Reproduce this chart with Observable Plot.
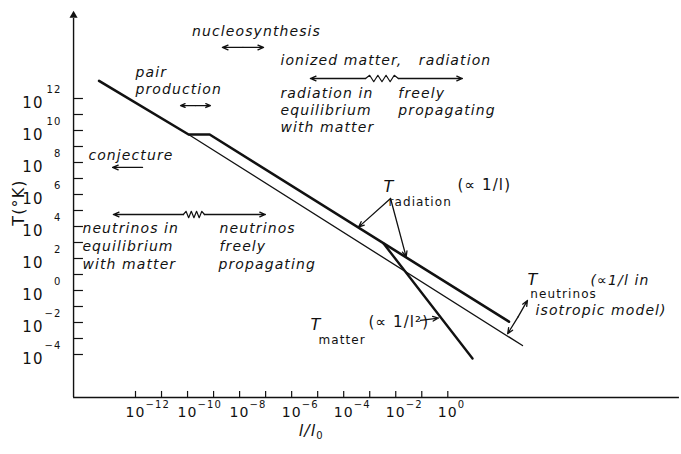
<!DOCTYPE html>
<html>
<head>
<meta charset="utf-8">
<script src="https://cdn.jsdelivr.net/npm/d3@7"></script>
<script src="https://cdn.jsdelivr.net/npm/@observablehq/plot@0.6"></script>
<style>
  html, body { margin: 0; padding: 0; background: #fff; }
</style>
</head>
<body>
<div id="chart"></div>
<script>
// Temperature histories in decades: log10(l/l0) against log10(T / °K)
const radiationL = [-13.4, -9.96, -9.15, 2.35];
const radiationT = [13.1, 9.75, 9.75, -1.95];
const neutrinoL = [-9.96, 2.87];
const neutrinoT = [9.75, -3.44];
const matterL = [-2.46, 0.95];
const matterT = [2.92, -4.25];

// axis ticks (exponents of ten)
const xTicks = [-12, -11, -10, -9, -8, -7, -6, -5, -4, -3, -2, -1, 0];
const xLabels = [-12, -10, -8, -6, -4, -2, 0];
const yTicks = [-4, -3, -2, -1, 0, 1, 2, 3, 4, 5, 6, 7, 8, 9, 10, 11, 12];
const yLabels = [12, 10, 8, 6, 4, 2, 0, -2, -4];

// where the two axes stand, in the same decade units
const axisL = -14.38;     // the T axis sits at this log10(l/l0)
const axisT = -6.69;      // the l/l0 axis sits at this log10 T
const axisTopT = 17.2;    // top of the T axis (arrow)
const axisRightL = 8.9;   // right end of the l/l0 axis
const tickL = 0.38;       // T-axis tick length, decades of l
const tickT = 0.38;       // l-axis tick length, decades of T

// epoch annotations: position in decades, text (left-aligned)
const epochNotes = [
  {l: -12.0, t: 13.62, text: "pair"},
  {l: -12.0, t: 12.56, text: "production"},
  {l: -6.43, t: 14.37, text: "ionized matter,   radiation"},
  {l: -6.43, t: 12.31, text: "radiation in"},
  {l: -6.43, t: 11.25, text: "equilibrium"},
  {l: -6.43, t: 10.19, text: "with matter"},
  {l: -1.9, t: 12.31, text: "freely"},
  {l: -1.9, t: 11.25, text: "propagating"},
  {l: -13.81, t: 8.44, text: "conjecture"},
  {l: -14.04, t: 3.87, text: "neutrinos in"},
  {l: -14.04, t: 2.75, text: "equilibrium"},
  {l: -14.04, t: 1.62, text: "with matter"},
  {l: -8.77, t: 3.87, text: "neutrinos"},
  {l: -8.77, t: 2.75, text: "freely"},
  {l: -8.81, t: 1.62, text: "propagating"},
  {l: 5.48, t: 0.62, text: "(∝1/l in"},
  {l: 3.37, t: -1.25, text: "isotropic model)"}
];
// centred over its arrow
const epochTitle = [{l: -7.35, t: 16.2, text: "nucleosynthesis"}];

// curve labels: T with a subscript, then the scaling law
const curveT = [
  {l: -2.47, t: 6.5, text: "T"},
  {l: -5.28, t: -2.12, text: "T"},
  {l: 3.06, t: 0.69, text: "T"}
];
const curveSub = [
  {l: -2.28, t: 5.5, text: "radiation"},
  {l: -4.97, t: -3.12, text: "matter"},
  {l: 3.17, t: -0.25, text: "neutrinos"}
];
const curveLaw = [
  {l: 0.37, t: 6.56, text: "(∝ 1/l)"},
  {l: -3.05, t: -2.0, text: "(∝ 1/l²)"}
];

// arrows: tail (l1, t1) to head (l2, t2)
const arrows = [
  {l1: -7.87, t1: 15.19, l2: -8.66, t2: 15.19},
  {l1: -7.87, t1: 15.19, l2: -7.08, t2: 15.19},
  {l1: -9.7, t1: 11.56, l2: -10.27, t2: 11.56},
  {l1: -9.7, t1: 11.56, l2: -9.12, t2: 11.56},
  {l1: -11.73, t1: 7.69, l2: -12.88, t2: 7.69},
  {l1: -3.16, t1: 13.25, l2: -5.28, t2: 13.25},
  {l1: -1.9, t1: 13.25, l2: 0.56, t2: 13.25},
  {l1: -10.16, t1: 4.75, l2: -12.85, t2: 4.75},
  {l1: -9.35, t1: 4.75, l2: -7.01, t2: 4.75},
  {l1: -2.2, t1: 5.75, l2: -3.43, t2: 3.96},
  {l1: -2.2, t1: 5.75, l2: -1.6, t2: 2.1},
  {l1: -1.05, t1: -1.87, l2: -0.36, t2: -1.72},
  {l1: 2.7, t1: -1.65, l2: 3.06, t2: -0.62},
  {l1: 2.7, t1: -1.65, l2: 2.3, t2: -2.7}
];

// wavy breaks marking a gradual transition
const transitions = [
  {l1: -3.16, l2: -1.9, t: 13.25},
  {l1: -10.16, l2: -9.35, t: 4.75}
];

const pts = (L, T) => L.map((l, i) => ({l, t: T[i]}));

function zigzag({l1, l2, t}, k) {
  const n = 8, amp = 0.2, out = [];
  for (let i = 0; i <= n; i++) {
    const up = i === 0 || i === n ? 0 : (i % 2 ? amp : -amp);
    out.push({g: k, l: l1 + (l2 - l1) * i / n, t: t + up});
  }
  return out;
}
const waves = transitions.flatMap(zigzag);

const ink = "#111";

const chart = Plot.plot({
  width: 681,
  height: 454,
  marginTop: 0, marginRight: 0, marginBottom: 0, marginLeft: 0,
  style: {fontFamily: "DejaVu Sans", letterSpacing: "1.1px", background: "#fff", color: ink},
  x: {type: "linear", domain: [-12, 0], range: [135, 447.3], axis: null},
  y: {type: "linear", domain: [-4, 12], range: [354, 98], axis: null},
  marks: [
    // axes
    Plot.ruleX([axisL], {x: d => d, y1: axisT, y2: axisTopT - 0.2, stroke: ink, strokeWidth: 1.4}),
    Plot.dot([axisTopT], {x: axisL, y: d => d, symbol: "triangle", r: 3, fill: ink, stroke: "none"}),
    Plot.ruleY([axisT], {y: d => d, x1: axisL, x2: axisRightL, stroke: ink, strokeWidth: 1.4}),
    Plot.ruleY(yTicks, {y: d => d, x1: axisL, x2: axisL + tickL, stroke: ink, strokeWidth: 1.2}),
    Plot.ruleX(xTicks, {x: d => d, y1: axisT, y2: axisT + tickT, stroke: ink, strokeWidth: 1.2}),

    // tick labels: 10 with a raised exponent
    Plot.text(yLabels, {x: axisL, y: d => d, text: () => "10", dx: -30, dy: 5, textAnchor: "end", fontSize: 15, fill: ink}),
    Plot.text(yLabels, {x: axisL, y: d => d, text: d => d < 0 ? "−" + (-d) : String(d), dx: -12, dy: -9, textAnchor: "end", fontSize: 10, fill: ink}),
    Plot.text(xLabels, {x: d => d, y: axisT, text: () => "10", dy: 15, fontSize: 14, fill: ink}),
    Plot.text(xLabels, {x: d => d, y: axisT, text: d => d < 0 ? "−" + (-d) : String(d), dx: 10, dy: 7, textAnchor: "start", fontSize: 10, fill: ink}),

    // axis titles
    Plot.text(["T(°K)"], {x: -16.5, y: 5.5, text: d => d, rotate: -90, fontSize: 16, fill: ink}),
    Plot.text(["l/l"], {x: -5.05, y: -8.8, text: d => d, textAnchor: "end", fontSize: 16, fontStyle: "italic", fill: ink}),
    Plot.text(["0"], {x: -5.05, y: -9.1, text: d => d, textAnchor: "start", fontSize: 10, fill: ink}),

    // temperature histories
    Plot.line(pts(neutrinoL, neutrinoT), {x: "l", y: "t", stroke: ink, strokeWidth: 1.3}),
    Plot.line(pts(matterL, matterT), {x: "l", y: "t", stroke: ink, strokeWidth: 2.4}),
    Plot.line(pts(radiationL, radiationT), {x: "l", y: "t", stroke: ink, strokeWidth: 2.6, strokeLinejoin: "round"}),

    // annotations
    Plot.arrow(arrows, {x1: "l1", y1: "t1", x2: "l2", y2: "t2", stroke: ink, strokeWidth: 1.3, headLength: 7, headAngle: 45}),
    Plot.line(waves, {x: "l", y: "t", z: "g", stroke: ink, strokeWidth: 1.2}),
    Plot.text(epochTitle, {x: "l", y: "t", text: "text", textAnchor: "middle", fontSize: 14, fontStyle: "italic", fill: ink}),
    Plot.text(epochNotes, {x: "l", y: "t", text: "text", textAnchor: "start", fontSize: 14, fontStyle: "italic", fill: ink}),
    Plot.text(curveT, {x: "l", y: "t", text: "text", textAnchor: "start", fontSize: 16, fontStyle: "italic", fill: ink}),
    Plot.text(curveSub, {x: "l", y: "t", text: "text", textAnchor: "start", fontSize: 12, fill: ink}),
    Plot.text(curveLaw, {x: "l", y: "t", text: "text", textAnchor: "start", fontSize: 15, fill: ink})
  ]
});

document.getElementById("chart").appendChild(chart);
</script>
</body>
</html>
